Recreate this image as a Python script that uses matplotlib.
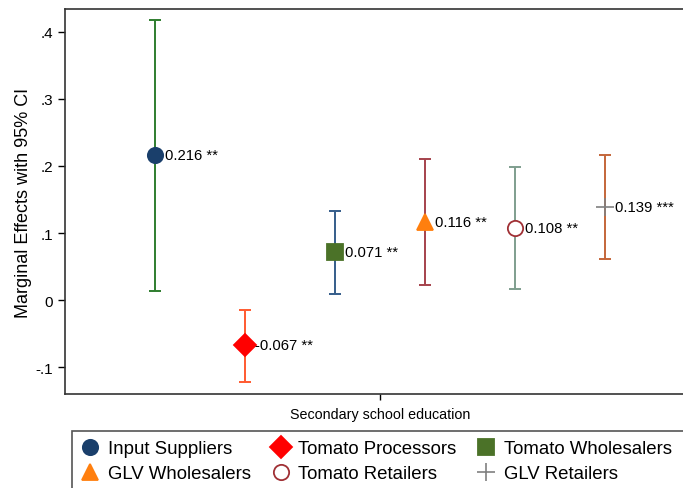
import numpy as np
import matplotlib
matplotlib.use('Agg')
import matplotlib.pyplot as plt
from matplotlib.patches import Rectangle

plt.rcParams['font.family'] = ['Liberation Sans', 'DejaVu Sans']

groups = ['Input Suppliers', 'Tomato Processors', 'Tomato Wholesalers',
          'GLV Wholesalers', 'Tomato Retailers', 'GLV Retailers']
effects = [0.216, -0.067, 0.071, 0.116, 0.108, 0.139]
ci_low = [0.013, -0.122, 0.009, 0.022, 0.016, 0.061]
ci_high = [0.418, -0.015, 0.133, 0.210, 0.199, 0.216]
stars = ['**', '**', '**', '**', '**', '***']
y_ticks = [-0.1, 0, 0.1, 0.2, 0.3, 0.4]
y_tick_labels = ['-.1', '0', '.1', '.2', '.3', '.4']

# marker style per group
markers = ['o', 'D', 's', '^', 'o', '+']
marker_face = ['#1a3f6b', '#ff0000', '#4b7228', '#ff7f0e', 'white', '#808080']
marker_edge = ['#1a3f6b', '#ff0000', '#4b7228', '#ff7f0e', '#a03035', '#808080']
marker_size = [11, 11, 11, 11, 11, 13]
ci_colors = ['#2f7d2f', '#ff5a30', '#355d8a', '#a5424c', '#7f9e8e', '#c4663a']

fig = plt.figure(figsize=(6.83, 4.89), dpi=100)
ax = fig.add_axes([0.0952, 0.1922, 0.922, 0.7874])

xs = np.arange(1, len(groups) + 1)
handles = []
for i, x in enumerate(xs):
    ax.errorbar(x, effects[i],
                yerr=[[effects[i] - ci_low[i]], [ci_high[i] - effects[i]]],
                fmt='none', ecolor=ci_colors[i], elinewidth=1.4,
                capsize=4.5, capthick=1.4, zorder=2)
    h, = ax.plot(x, effects[i], linestyle='none', marker=markers[i],
                 markersize=marker_size[i], markerfacecolor=marker_face[i],
                 markeredgecolor=marker_edge[i],
                 markeredgewidth=1.3 if markers[i] != '+' else 1.2,
                 zorder=3, label=groups[i])
    handles.append(h)
    ax.annotate(f'{effects[i]:.3f} {stars[i]}', (x, effects[i]),
                xytext=(7, 0), textcoords='offset points',
                va='center', ha='left', fontsize=10.7)

ax.set_xlim(0, 7)
ax.set_ylim(-0.14, 0.434)
ax.set_yticks(y_ticks)
ax.set_yticklabels(y_tick_labels)
ax.set_xticks([3.5])
ax.set_xticklabels(['Secondary school education'], fontsize=10.3)
ax.tick_params(axis='y', labelsize=11, length=5, width=1)
ax.tick_params(axis='x', length=4, width=1, pad=5)
ax.set_ylabel('Marginal Effects with 95% CI', fontsize=13)
ax.yaxis.set_label_coords(-0.053, 0.5)
for s in ['left', 'bottom', 'top']:
    ax.spines[s].set_linewidth(1.2)
    ax.spines[s].set_color('#333333')
ax.spines['right'].set_visible(False)

# legend fills rows left to right, matplotlib fills by column
order = [0, 3, 1, 4, 2, 5]
leg = fig.legend(handles=[handles[k] for k in order], ncol=3, loc='upper left',
                 bbox_to_anchor=(0.105, 0.1166),
                 fontsize=13.4, frameon=False,
                 handlelength=1.0, handletextpad=0.45, borderpad=0.5,
                 labelspacing=0.42, columnspacing=1.1, borderaxespad=0)

# legend box runs off the right and bottom edges, as in the original
fig.canvas.draw()
bb = leg.get_window_extent().transformed(fig.transFigure.inverted())
fig.add_artist(Rectangle((bb.x0, -0.05), 1.1 - bb.x0, bb.y1 + 0.05,
                         transform=fig.transFigure, fill=False,
                         edgecolor='#555555', linewidth=1.2))

fig.savefig('out.png', dpi=100)
